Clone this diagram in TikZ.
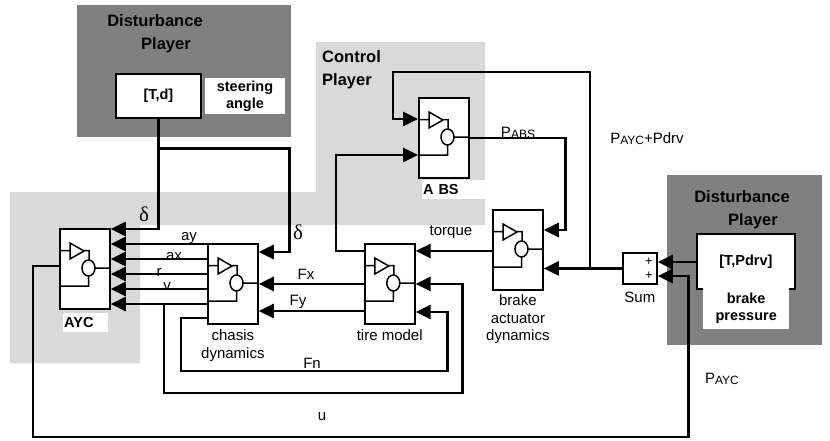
\documentclass[tikz,border=0pt]{standalone}
\usepackage{fontspec}
\setmainfont{Liberation Sans}
\newfontfamily\greekfont{Liberation Serif}
\usetikzlibrary{arrows.meta, positioning, calc}
\definecolor{darkzone}{RGB}{128,128,128}
\definecolor{lightzone}{RGB}{217,217,217}
\newcommand\psig[1]{P\raisebox{-1pt}{\fontsize{12}{13}\selectfont #1}}
\tikzset{
  >={Triangle[length=15pt, width=14pt]},
  sysbox/.style  = {draw, line width=1.8pt, fill=white, minimum width=50pt,
                    minimum height=80pt, inner sep=0pt},
  srcbox/.style  = {draw, line width=1.8pt, fill=white, inner sep=0pt,
                    anchor=north west, font=\bfseries\fontsize{14.5}{16}\selectfont},
  tag/.style     = {fill=white, inner sep=0pt, anchor=north west, align=center,
                    font=\bfseries\fontsize{14.5}{17}\selectfont},
  title/.style   = {font=\bfseries\fontsize{16.5}{23}\selectfont, inner sep=0pt},
  lbl/.style     = {font=\fontsize{15}{17.5}\selectfont, inner sep=0pt, align=center},
  sym/.style     = {font=\greekfont\fontsize{21}{22}\selectfont, inner sep=0pt},
  wire/.style    = {line width=2.8pt},
  arrow/.style   = {->, line width=2.8pt},
  icon/.pic      = {
    \draw[line width=1.5pt]
      (0,22.5) -- (11,22.5)
      (11,15) -- (11,31) -- (25,23) -- cycle
      (24,22.5) -- (30,22.5) -- (30,32)
      (29.5,40) ellipse [x radius=6.5pt, y radius=8pt]
      (36,40) -- (50,40)
      (29.5,48) -- (29.5,58) -- (0,58);
  },
}

\begin{document}
\begin{tikzpicture}[x=1pt, y=-1pt]
  \useasboundingbox (0,0) rectangle (830,440);

  % =====================================================================
  % player zones
  % =====================================================================
  \fill[lightzone] (10,192) -- (316,192) -- (316,42) -- (485,42) -- (485,225)
    -- (140,225) -- (140,363) -- (10,363) -- cycle;
  \fill[darkzone] (77,5) rectangle (291,137);
  \fill[darkzone] (667,175) rectangle (822,345);

  \node[title, align=center] at (155,34) {Disturbance\\\hspace*{22pt}Player};
  \node[title, align=left, anchor=west] at (322,70) {Control\\Player};
  \node[title, align=center] at (742,210) {Disturbance\\\hspace*{22pt}Player};

  % =====================================================================
  % blocks
  % =====================================================================
  \node[srcbox, minimum width=85pt, minimum height=44pt] (td) at (115,73) {[T,d]};
  \node[tag, minimum width=80pt, minimum height=36pt, right=3pt of td.north east,
        anchor=north west, yshift=-5pt] (steer) {steering\\angle};

  \node[sysbox, anchor=north west] (ayc)   at (59,228)  {};
  \node[sysbox, anchor=north west] (chas)  at (207,243) {};
  \node[sysbox, right=105pt of chas] (tire) {};
  \node[sysbox, anchor=north west] (brake) at (492,209) {};
  \node[sysbox, anchor=north west] (abs)   at (418,97)  {};
  \foreach \b in {ayc, chas, tire, brake, abs}
    \pic at (\b.north west) {icon};

  \node[tag, text width=43pt, inner xsep=1pt, align=left, minimum height=19pt]
    (ayctag) at (63,313) {AYC};
  \node[tag, text width=61pt, inner xsep=1pt, align=left, minimum height=19pt]
    (abstag) at (422,180) {A BS};
  \node[lbl, below=5pt of chas]  (chaslbl)  {chasis\\dynamics};
  \node[lbl, below=5pt of tire]  (tirelbl)  {tire model};
  \node[lbl, below=4pt of brake] (brakelbl) {brake\\actuator\\dynamics};

  \node[draw, line width=1.8pt, fill=white, minimum width=34pt, minimum height=31pt,
        anchor=north west] (sum) at (622,252) {};
  \node[lbl, font=\fontsize{13}{14}\selectfont] at ($(sum.north east)+(-9,10)$) {+};
  \node[lbl, font=\fontsize{13}{14}\selectfont] at ($(sum.north east)+(-9,24)$) {+};
  \node[lbl, below=7pt of sum] (sumlbl) {Sum};

  \node[srcbox, minimum width=98pt, minimum height=55pt] (tpdrv) at (696,233) {[T,Pdrv]};
  \node[tag, minimum width=86pt, minimum height=41pt] (press) at (703,288) {brake\\pressure};

  % =====================================================================
  % connectors
  % =====================================================================
  % steering angle
  \coordinate (dsplit) at ($(td.south)+(0,30)$);
  \draw[wire] (td.south) -- (dsplit);
  \draw[arrow] (dsplit) -| ($(chas.north east)+(31,9)$) -- ($(chas.north east)+(0,9)$);
  \draw[arrow] (dsplit) |- ($(ayc.north east)+(0,1)$);

  % chasis outputs -> AYC
  \foreach \i in {0,...,4} {
    \coordinate (o\i) at ($(chas.north west)+(0,15*\i+1)$);
    \draw[arrow] (o\i) -- (o\i -| ayc.east);
  }
  \coordinate (vsplit) at ($(o4)+(-43,0)$);
  \draw[arrow] (vsplit) -- ++(0,89) -| ($(tire.east)+(47,0)$) -- (tire.east);
  \draw[arrow] ($(chas.north west)+(0,75)$) -- ++(-26,0) -- ++(0,53)
    -| ($(tire.north east)+(32,69)$) -- ($(tire.north east)+(0,69)$);

  % tire model
  \draw[arrow] ($(tire.north west)+(0,8)$) -| ($(abs.north west)+(-82,58)$)
    -- ($(abs.north west)+(0,58)$);
  \draw[arrow] (tire.west) -- (chas.east);
  \draw[arrow] ($(tire.north west)+(0,68)$) -- ($(chas.north east)+(0,68)$);

  % brakes
  \draw[arrow] ($(brake.north west)+(0,42)$) -- ($(tire.north east)+(0,8)$);
  \draw[arrow] (abs.east) -| ($(brake.north east)+(22,21)$) -- ($(brake.north east)+(0,21)$);
  \draw[arrow] (sum.west) -- (sum.west -| brake.east);
  \coordinate (psplit) at ($(sum.west)+(-32,0)$);
  \draw[arrow] (psplit) |- ($(abs.north west)+(-25,-25)$) |- ($(abs.north west)+(0,22)$);
  \draw[arrow] ($(tpdrv.north west)+(0,29)$) -- ($(sum.north east)+(0,10)$);

  % AYC command
  \draw[arrow] ($(ayc.north west)+(0,38)$) -- ++(-26,0) -- ++(0,171)
    -| ($(sum.north east)+(31,24)$) -- ($(sum.north east)+(0,24)$);

  % signal labels
  \node[sym] at (144,214) {δ};
  \node[sym] at (298,232) {δ};
  \node[lbl] at (189,238) {ay};
  \node[lbl] at (174,257) {ax};
  \node[lbl] at (159,272) {r};
  \node[lbl] at (167,287) {v};
  \node[lbl] at (306,274) {Fx};
  \node[lbl] at (298,302) {Fy};
  \node[lbl] at (312,363) {Fn};
  \node[lbl] at (322,417) {u};
  \node[lbl] at (451,232) {torque};
  \node[lbl] at (518,133) {\psig{ABS}};
  \node[lbl] at (647,139) {\psig{AYC}+Pdrv};
  \node[lbl] at (722,379) {\psig{AYC}};
\end{tikzpicture}
\end{document}
